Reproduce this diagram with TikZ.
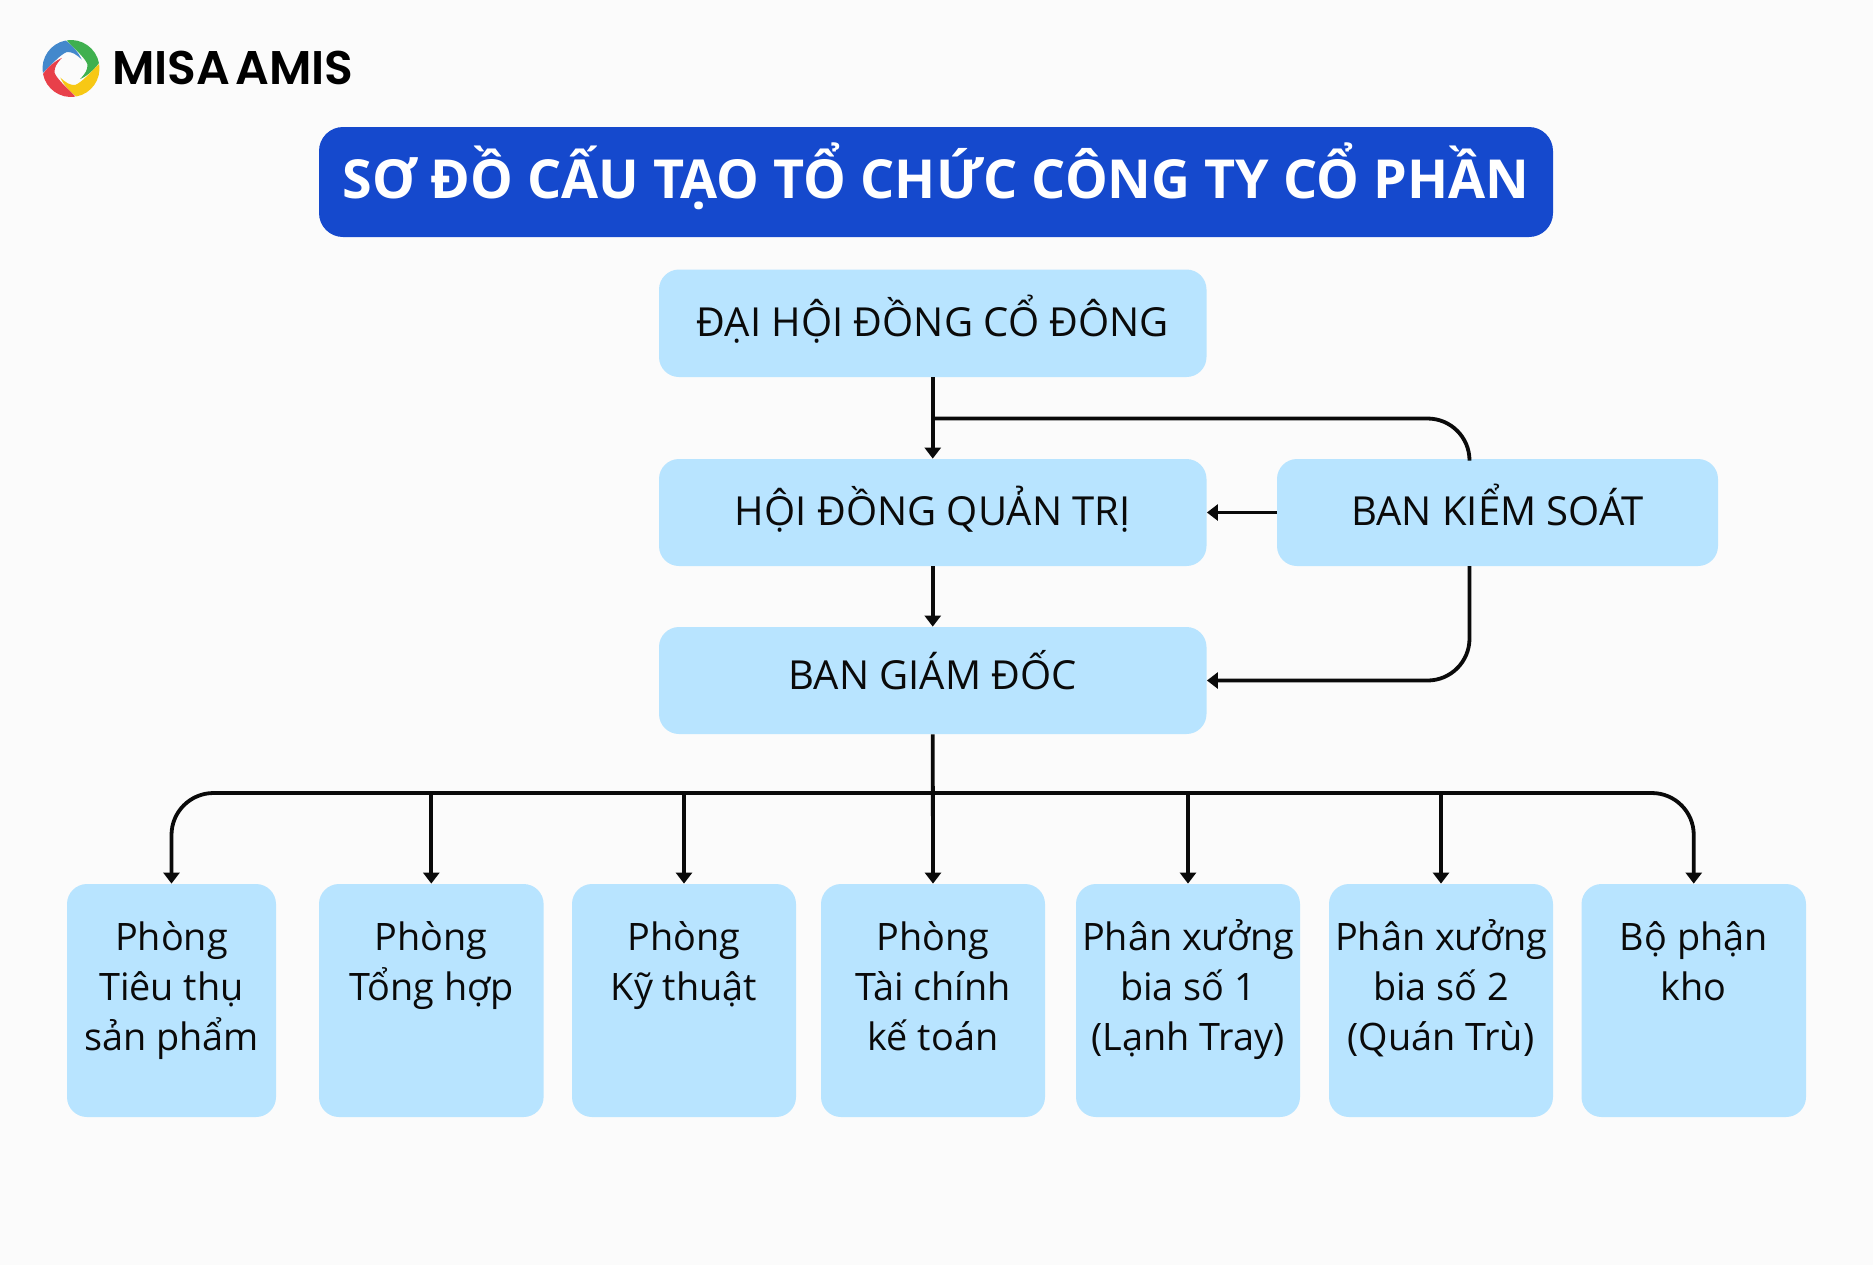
\documentclass[tikz,border=0pt]{standalone}
\usepackage{fontspec}
\setmainfont{Open Sans}
\newfontfamily\logofont{Poppins SemiBold}
\usetikzlibrary{arrows.meta,fit}
\definecolor{bgc}{HTML}{FBFBFB}
\definecolor{boxc}{HTML}{B8E4FF}
\definecolor{titlec}{HTML}{1549CD}
\definecolor{lblue}{HTML}{4388CC}
\definecolor{lgreen}{HTML}{3FB04F}
\definecolor{lyellow}{HTML}{F7C815}
\definecolor{lred}{HTML}{E8404A}
\definecolor{inkc}{HTML}{0A0A0A}
\tikzset{
  boxn/.style={fill=boxc,rounded corners=10pt,inner sep=0pt,draw=none},
  lbl/.style={inner sep=0pt,text=inkc,font=\fontsize{20}{25}\selectfont,align=center},
  lowlbl/.style={lbl,font=\fontsize{18.9}{25}\selectfont},
  conn/.style={draw=inkc,line width=1.9pt},
  arr/.style={conn,-{Triangle[length=5.5pt,width=8pt]}},
  bendy/.style={rounded corners=21pt}
}
\begin{document}
\begin{tikzpicture}[x=0.5pt,y=-0.5pt]
\useasboundingbox[fill=bgc] (0,0) rectangle (1873,1265);
% logo
\begin{scope}[shift={(71,68.5)},x=0.5pt,y=0.5pt]
\foreach \c/\r in {lblue/0,lgreen/-90,lyellow/-180,lred/-270}{
  \fill[\c,rotate=\r] (189:28.5) arc[start angle=189,end angle=101,radius=28.5]
     .. controls (85:23) and (62:17) .. (40:14)
     .. controls (70:15) and (85:17) .. (105:17)
     .. controls (130:17.5) and (165:19) .. (189:28.5) -- cycle;
}
\end{scope}
\node[inner sep=0pt,anchor=base west,text=black,font=\logofont\fontsize{23.6}{23}\selectfont] (logo) at (112,84) {MISA\hspace{2.4pt}AMIS};
% title
\node[boxn,rounded corners=12pt,fill=titlec,fit={(319,127)(1553,237)}] (title) {};
\node[inner sep=0pt,anchor=base,text=white,font=\bfseries\fontsize{26.9}{30}\selectfont] (titlet) at (936,198) {SƠ ĐỒ CẤU TẠO TỔ CHỨC CÔNG TY CỔ PHẦN};
% upper boxes
\node[boxn,fit={(659,269.5)(1206.5,377)}] (dh) {};
\node[boxn,fit={(659,459)(1206.5,566)}] (hd) {};
\node[boxn,fit={(1277,459)(1718,566)}] (bk) {};
\node[boxn,fit={(659,627)(1206.5,734)}] (gd) {};
\node[lbl,anchor=base] (dht) at (dh.center |- 0,336) {ĐẠI HỘI ĐỒNG CỔ ĐÔNG};
\node[lbl,anchor=base] (hdt) at (hd.center |- 0,525.5) {HỘI ĐỒNG QUẢN TRỊ};
\node[lbl,anchor=base] (bkt) at (bk.center |- 0,525.5) {BAN KIỂM SOÁT};
\node[lbl,anchor=base] (gdt) at (gd.center |- 0,689.5) {BAN GIÁM ĐỐC};
% lower boxes
\node[boxn,fit={(67,884)(276,1117)}] (n1) {};
\node[boxn,fit={(319,884)(543.6,1117)}] (n2) {};
\node[boxn,fit={(572,884)(796,1117)}] (n3) {};
\node[boxn,fit={(821,884)(1045,1117)}] (n4) {};
\node[boxn,fit={(1076,884)(1300,1117)}] (n5) {};
\node[boxn,fit={(1329,884)(1553,1117)}] (n6) {};
\node[boxn,fit={(1581.5,884)(1806,1117)}] (n7) {};
\foreach \n/\t in {n1/{Phòng\\Tiêu thụ\\sản phẩm},n2/{Phòng\\Tổng hợp},n3/{Phòng\\Kỹ thuật},n4/{Phòng\\Tài chính\\kế toán},n5/{Phân xưởng\\bia số 1\\(Lạnh Tray)},n6/{Phân xưởng\\bia số 2\\(Quán Trù)},n7/{Bộ phận\\kho}}{
  \node[lowlbl,anchor=north] (\n t) at ([yshift=-15.8pt]\n.north) {\strut\t};
}
% connectors
\coordinate (bus) at (hd.center |- 0,793);
\coordinate (tap) at (hd.center |- 0,418.5);
\coordinate (bkn) at (1469.5,459);
\coordinate (bks) at (1469.5,566);
\coordinate (bgr) at (gd.east |- 0,680.5);
\draw[arr] (dh.south) -- (hd.north);
\draw[conn,bendy] (tap) -| (bkn);
\draw[arr] (bk.west) -- (hd.east);
\draw[arr] (hd.south) -- (gd.north);
\draw[arr,bendy] (bks) |- (bgr);
\draw[arr] (gd.south) -- (n4.north);
\draw[arr,bendy] (bus) -| (n1.north);
\draw[arr,bendy] (bus) -| (n7.north);
\foreach \n in {n2,n3,n5,n6}{
  \draw[arr] (\n.north |- bus) -- (\n.north);
}
\end{tikzpicture}
\end{document}
